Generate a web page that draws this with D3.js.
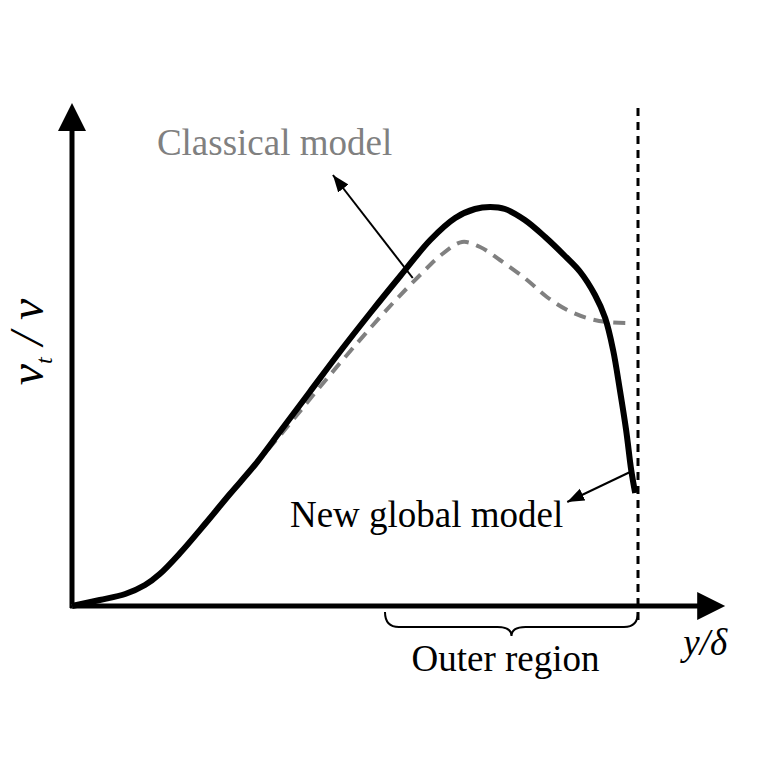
<!DOCTYPE html>
<html>
<head>
<meta charset="utf-8">
<script src="https://cdn.jsdelivr.net/npm/d3@7"></script>
<style>
  body { margin: 0; background: #fff; }
  text { font-family: 'Liberation Serif', 'Times New Roman', Times, 'DejaVu Serif', serif; }
</style>
</head>
<body>
<div id="chart"></div>
<script>
// new global model (solid), y/delta vs nu_t/nu (arbitrary units)
const newModelX = [0, 0.049, 0.094, 0.129, 0.155, 0.191, 0.235, 0.279, 0.323, 0.367, 0.420, 0.473, 0.527, 0.580, 0.633, 0.677, 0.712, 0.739, 0.765, 0.800, 0.836, 0.871, 0.898, 0.924, 0.942, 0.956, 0.968, 0.979, 0.988, 0.995];
const newModelY = [0, 0.012, 0.024, 0.042, 0.064, 0.106, 0.164, 0.224, 0.282, 0.348, 0.428, 0.508, 0.586, 0.660, 0.732, 0.776, 0.794, 0.798, 0.794, 0.772, 0.738, 0.700, 0.668, 0.622, 0.576, 0.512, 0.432, 0.352, 0.272, 0.226];

// classical model (dashed)
const classicalX = [0, 0.049, 0.094, 0.129, 0.155, 0.191, 0.235, 0.279, 0.323, 0.380, 0.438, 0.504, 0.567, 0.615, 0.650, 0.689, 0.721, 0.756, 0.804, 0.839, 0.875, 0.910, 0.945, 0.981];
const classicalY = [0, 0.012, 0.024, 0.042, 0.064, 0.106, 0.164, 0.224, 0.282, 0.358, 0.438, 0.526, 0.606, 0.662, 0.700, 0.728, 0.718, 0.692, 0.652, 0.618, 0.592, 0.576, 0.568, 0.566];

// outer region extent along y/delta, and boundary layer edge
const outerRegion = [0.553, 1.0];
const deltaEdge = 1.0;

const W = 757, H = 757;

const x = d3.scaleLinear().domain([0, 1]).range([72, 638]);
const y = d3.scaleLinear().domain([0, 1]).range([606, 106]);

const svg = d3.select('#chart')
  .append('svg')
  .attr('width', W)
  .attr('height', H);

svg.append('defs').append('marker')
  .attr('id', 'head')
  .attr('markerUnits', 'userSpaceOnUse')
  .attr('markerWidth', 18)
  .attr('markerHeight', 14)
  .attr('refX', 17)
  .attr('refY', 6.5)
  .attr('orient', 'auto')
  .append('path')
  .attr('d', 'M0,0 L17,6.5 L0,13 Z')
  .attr('fill', '#000');

// axes (no ticks, arrow ends)
const xEnd = 1.154, yEnd = 1.006;
svg.append('line')
  .attr('x1', x(0)).attr('y1', y(0) + 2)
  .attr('x2', x(0)).attr('y2', y(yEnd) + 20)
  .attr('stroke', '#000').attr('stroke-width', 5);
svg.append('path')
  .attr('d', `M${x(0)},${y(yEnd)} L${x(0) + 14},${y(yEnd) + 28} L${x(0) - 14},${y(yEnd) + 28} Z`)
  .attr('fill', '#000');

svg.append('line')
  .attr('x1', x(0) - 2).attr('y1', y(0))
  .attr('x2', x(xEnd) - 20).attr('y2', y(0))
  .attr('stroke', '#000').attr('stroke-width', 5);
svg.append('path')
  .attr('d', `M${x(xEnd)},${y(0)} L${x(xEnd) - 28},${y(0) - 14} L${x(xEnd) - 28},${y(0) + 14} Z`)
  .attr('fill', '#000');

// boundary layer edge
svg.append('line')
  .attr('x1', x(deltaEdge)).attr('y1', y(yEnd) + 5)
  .attr('x2', x(deltaEdge)).attr('y2', y(-0.03))
  .attr('stroke', '#000').attr('stroke-width', 3)
  .attr('stroke-dasharray', '8,6');

// curves
const line = d3.line()
  .x(d => x(d[0]))
  .y(d => y(d[1]))
  .curve(d3.curveCatmullRom.alpha(0.5));

svg.append('path')
  .datum(d3.zip(classicalX, classicalY))
  .attr('d', line)
  .attr('fill', 'none')
  .attr('stroke', '#808080')
  .attr('stroke-width', 4)
  .attr('stroke-dasharray', '12,8');

svg.append('path')
  .datum(d3.zip(newModelX, newModelY))
  .attr('d', line)
  .attr('fill', 'none')
  .attr('stroke', '#000')
  .attr('stroke-width', 6)
  .attr('stroke-linejoin', 'round');

// annotation arrows
svg.append('line')
  .attr('x1', x(0.602)).attr('y1', y(0.656))
  .attr('x2', x(0.461)).attr('y2', y(0.862))
  .attr('stroke', '#000').attr('stroke-width', 2)
  .attr('marker-end', 'url(#head)');

svg.append('line')
  .attr('x1', x(0.986)).attr('y1', y(0.268))
  .attr('x2', x(0.875)).attr('y2', y(0.208))
  .attr('stroke', '#000').attr('stroke-width', 2)
  .attr('marker-end', 'url(#head)');

// labels
svg.append('text')
  .attr('x', x(0.150)).attr('y', y(0.902))
  .attr('font-size', 37)
  .attr('fill', '#808080')
  .text('Classical model');

svg.append('text')
  .attr('x', x(0.385)).attr('y', y(0.158))
  .attr('font-size', 37)
  .attr('fill', '#000')
  .text('New global model');

// outer region brace
const bx0 = x(outerRegion[0]), bx1 = x(outerRegion[1]);
const bm = (bx0 + bx1) / 2, by0 = y(0) + 6, by1 = y(0) + 21, by2 = y(0) + 30, r = 14;
svg.append('path')
  .attr('d', `M${bx0},${by0} Q${bx0},${by1} ${bx0 + r},${by1} L${bm - r},${by1} Q${bm},${by1} ${bm},${by2} Q${bm},${by1} ${bm + r},${by1} L${bx1 - r},${by1} Q${bx1},${by1} ${bx1},${by0}`)
  .attr('fill', 'none')
  .attr('stroke', '#000')
  .attr('stroke-width', 2);

svg.append('text')
  .attr('x', bm - 6).attr('y', y(0) + 65)
  .attr('text-anchor', 'middle')
  .attr('font-size', 37)
  .text('Outer region');

svg.append('text')
  .attr('x', x(1.080)).attr('y', y(0) + 49)
  .attr('font-size', 37)
  .attr('font-style', 'italic')
  .text('y/δ');

// y label
const yl = svg.append('text')
  .attr('transform', `translate(43,${y(0.528)}) rotate(-90)`)
  .attr('text-anchor', 'middle')
  .attr('font-size', 48)
  .attr('font-style', 'italic');
yl.append('tspan').text('ν');
yl.append('tspan').attr('dy', 9).attr('font-size', 24).text('t');
yl.append('tspan').attr('dy', -9).text(' / ν');
</script>
</body>
</html>
